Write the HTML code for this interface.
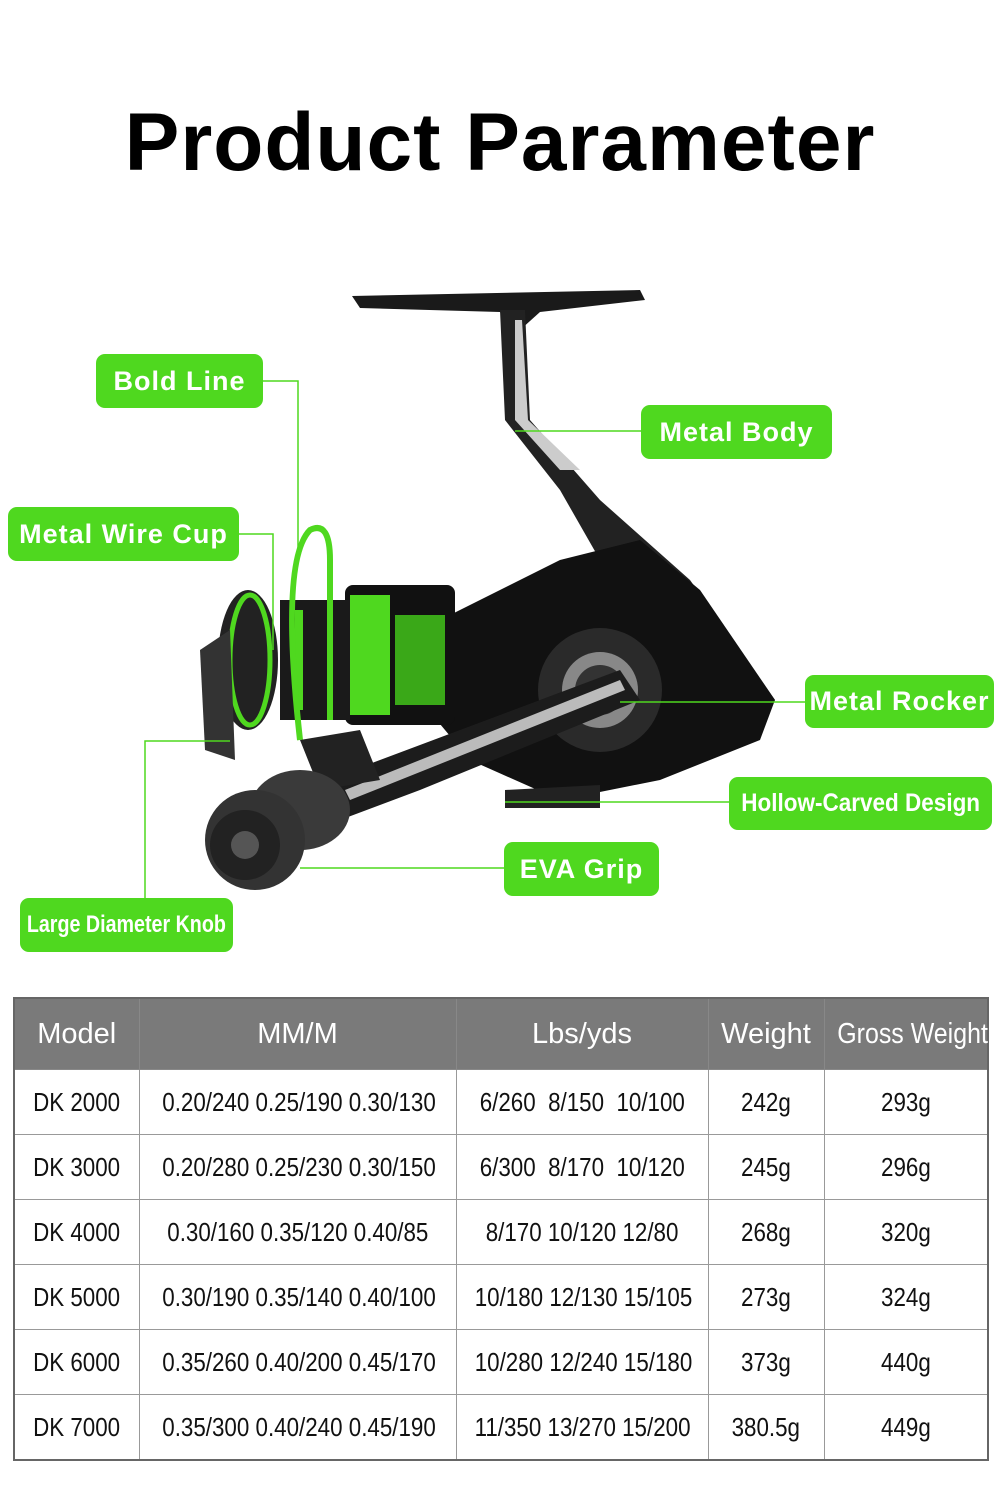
<!DOCTYPE html>
<html><head><meta charset="utf-8"><style>
body{margin:0;background:#fff;width:1000px;height:1486px;position:relative;overflow:hidden;font-family:"Liberation Sans",sans-serif}
h1{position:absolute;left:0;top:96px;width:1000px;text-align:center;margin:0;font-size:82px;font-weight:bold;letter-spacing:1px;color:#000}
.lb{position:absolute;background:#4fd81f;color:#fff;border-radius:9px;font-weight:bold;font-size:27px;display:flex;align-items:center;justify-content:center;letter-spacing:1px;white-space:nowrap}
table{position:absolute;left:13px;top:997px;width:974px;border-collapse:collapse;border:2px solid #666;table-layout:fixed}
td,th{border:1.5px solid #999;text-align:center;padding:0;white-space:nowrap;overflow:visible}
th{background:#7a7a7a;color:#fff;font-weight:normal;font-size:29px;height:70px;border-color:#888}
td{height:64px;font-size:26px;color:#111}
.n{display:inline-block;transform:scaleX(.86)}
</style></head><body>
<h1>Product Parameter</h1>
<svg width="1000" height="1000" style="position:absolute;left:0;top:0">
<path d="M352 296 L640 290 L645 300 L540 312 L520 330 L510 330 L500 312 L360 308 Z" fill="#1a1a1a"/>
<path d="M500 310 L525 310 L530 420 L600 500 L690 580 L775 700 L760 700 L680 600 L600 560 L560 490 L505 420 Z" fill="#222"/>
<path d="M515 320 L522 320 L528 420 L580 470 L560 470 L515 420 Z" fill="#ccc"/>
<path d="M440 620 L560 560 L640 540 L700 590 L775 700 L760 740 L660 780 L560 800 L470 760 L420 700 Z" fill="#111"/>
<circle cx="600" cy="690" r="62" fill="#2a2a2a"/><circle cx="600" cy="690" r="38" fill="#888"/><circle cx="600" cy="690" r="25" fill="#333"/>
<rect x="345" y="585" width="110" height="140" rx="8" fill="#111"/>
<rect x="350" y="595" width="40" height="120" fill="#4fd81f"/>
<rect x="395" y="615" width="50" height="90" fill="#3aa818"/>
<rect x="280" y="600" width="70" height="120" fill="#1a1a1a"/>
<rect x="295" y="610" width="8" height="100" fill="#4fd81f"/>
<ellipse cx="248" cy="660" rx="30" ry="70" fill="#222"/>
<ellipse cx="250" cy="660" rx="20" ry="65" fill="none" stroke="#4fd81f" stroke-width="5"/>
<path d="M200 650 L230 630 L235 760 L205 750 Z" fill="#333"/>
<path d="M300 740 Q280 560 310 530 Q330 520 330 560 L330 720" fill="none" stroke="#4fd81f" stroke-width="6"/>
<path d="M300 790 L380 760 L620 670 L640 700 L420 790 L340 820 Z" fill="#1c1c1c"/>
<path d="M345 790 L620 680 L625 690 L350 800 Z" fill="#bbb"/>
<path d="M300 740 L360 730 L380 780 L320 790 Z" fill="#222"/>
<ellipse cx="300" cy="810" rx="50" ry="40" fill="#3a3a3a"/>
<circle cx="255" cy="840" r="50" fill="#333"/><circle cx="245" cy="845" r="35" fill="#222"/><circle cx="245" cy="845" r="14" fill="#555"/>
<path d="M505 790 L600 785 L600 808 L505 808 Z" fill="#222"/>
<g stroke="#4fd81f" stroke-width="1.5" fill="none">
<path d="M263 381 H298 V560"/><path d="M641 431 H515"/><path d="M239 534 H273 V650"/>
<path d="M805 702 H620"/><path d="M729 802 H505"/><path d="M504 868 H300"/><path d="M145 898 V741 H230"/>
</g></svg>
<div class="lb" style="left:96px;top:354px;width:167px;height:54px">Bold Line</div>
<div class="lb" style="left:641px;top:405px;width:191px;height:54px">Metal Body</div>
<div class="lb" style="left:8px;top:507px;width:231px;height:54px">Metal Wire Cup</div>
<div class="lb" style="left:805px;top:675px;width:189px;height:53px">Metal Rocker</div>
<div class="lb" style="left:729px;top:777px;width:263px;height:53px;font-size:25px;letter-spacing:0"><span class="n" style="transform:scaleX(.9)">Hollow-Carved Design</span></div>
<div class="lb" style="left:504px;top:842px;width:155px;height:54px">EVA Grip</div>
<div class="lb" style="left:20px;top:898px;width:213px;height:54px;font-size:24px;letter-spacing:0"><span class="n" style="transform:scaleX(.82)">Large Diameter Knob</span></div>
<table>
<colgroup><col style="width:125px"><col style="width:317px"><col style="width:252px"><col style="width:116px"><col style="width:164px"></colgroup>
<tr><th>Model</th><th>MM/M</th><th>Lbs/yds</th><th>Weight</th><th><span class="n">Gross Weight</span></th></tr>
<tr><td><span class="n">DK 2000</span></td><td><span class="n">0.20/240 0.25/190 0.30/130</span></td><td><span class="n">6/260&nbsp; 8/150&nbsp; 10/100</span></td><td><span class="n">242g</span></td><td><span class="n">293g</span></td></tr>
<tr><td><span class="n">DK 3000</span></td><td><span class="n">0.20/280 0.25/230 0.30/150</span></td><td><span class="n">6/300&nbsp; 8/170&nbsp; 10/120</span></td><td><span class="n">245g</span></td><td><span class="n">296g</span></td></tr>
<tr><td><span class="n">DK 4000</span></td><td><span class="n">0.30/160 0.35/120 0.40/85</span></td><td><span class="n">8/170 10/120 12/80</span></td><td><span class="n">268g</span></td><td><span class="n">320g</span></td></tr>
<tr><td><span class="n">DK 5000</span></td><td><span class="n">0.30/190 0.35/140 0.40/100</span></td><td><span class="n">10/180 12/130 15/105</span></td><td><span class="n">273g</span></td><td><span class="n">324g</span></td></tr>
<tr><td><span class="n">DK 6000</span></td><td><span class="n">0.35/260 0.40/200 0.45/170</span></td><td><span class="n">10/280 12/240 15/180</span></td><td><span class="n">373g</span></td><td><span class="n">440g</span></td></tr>
<tr><td><span class="n">DK 7000</span></td><td><span class="n">0.35/300 0.40/240 0.45/190</span></td><td><span class="n">11/350 13/270 15/200</span></td><td><span class="n">380.5g</span></td><td><span class="n">449g</span></td></tr>
</table>
</body></html>
